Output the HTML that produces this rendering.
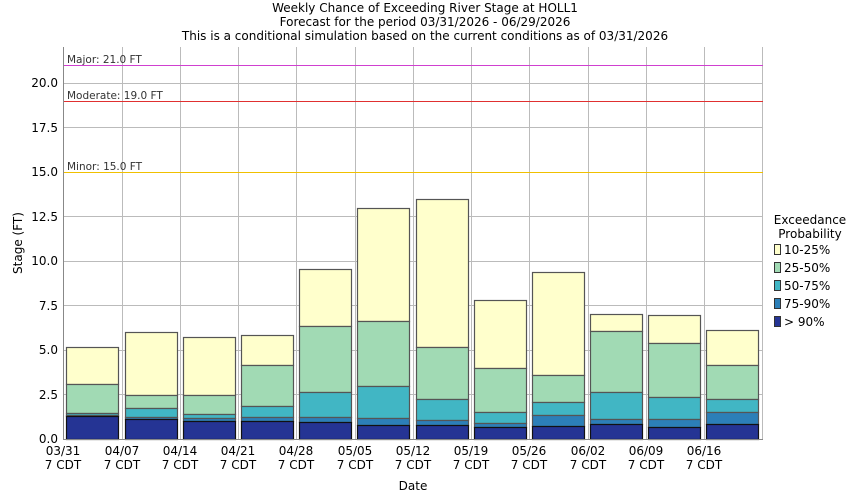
<!DOCTYPE html><html><head><style>body{margin:0;background:#fff}svg{display:block}text{font-family:"DejaVu Sans","Liberation Sans",sans-serif}</style></head><body>
<svg width="850" height="500" xmlns="http://www.w3.org/2000/svg">
<rect width="850" height="500" fill="#fff"/>
<g font-size="12" fill="#000" text-anchor="middle">
<text x="425" y="12">Weekly Chance of Exceeding River Stage at HOLL1</text>
<text x="425" y="26">Forecast for the period 03/31/2026 - 06/29/2026</text>
<text x="425" y="40">This is a conditional simulation based on the current conditions as of 03/31/2026</text>
</g>
<g stroke="#bbb" stroke-width="1">
<line x1="63" y1="394.5" x2="763" y2="394.5"/><line x1="63" y1="350.5" x2="763" y2="350.5"/><line x1="63" y1="305.5" x2="763" y2="305.5"/><line x1="63" y1="261.5" x2="763" y2="261.5"/><line x1="63" y1="216.5" x2="763" y2="216.5"/><line x1="63" y1="172.5" x2="763" y2="172.5"/><line x1="63" y1="127.5" x2="763" y2="127.5"/><line x1="63" y1="83.5" x2="763" y2="83.5"/>
<line x1="122.5" y1="47" x2="122.5" y2="439"/><line x1="180.5" y1="47" x2="180.5" y2="439"/><line x1="238.5" y1="47" x2="238.5" y2="439"/><line x1="296.5" y1="47" x2="296.5" y2="439"/><line x1="355.5" y1="47" x2="355.5" y2="439"/><line x1="413.5" y1="47" x2="413.5" y2="439"/><line x1="471.5" y1="47" x2="471.5" y2="439"/><line x1="529.5" y1="47" x2="529.5" y2="439"/><line x1="588.5" y1="47" x2="588.5" y2="439"/><line x1="646.5" y1="47" x2="646.5" y2="439"/><line x1="704.5" y1="47" x2="704.5" y2="439"/><line x1="762.5" y1="47" x2="762.5" y2="439"/>
</g>
<line x1="63" y1="65.5" x2="763" y2="65.5" stroke="#d040d0"/>
<line x1="63" y1="101.5" x2="763" y2="101.5" stroke="#e03030"/>
<line x1="63" y1="172.5" x2="763" y2="172.5" stroke="#f0c000"/>
<g font-size="10.5" fill="#333">
<text x="67" y="63">Major: 21.0 FT</text><text x="67" y="99">Moderate: 19.0 FT</text><text x="67" y="170">Minor: 15.0 FT</text>
</g>
<g stroke="#555" stroke-width="1.2">
<rect x="66.5" y="347.5" width="52" height="37" fill="#ffffcc"/><rect x="66.5" y="384.5" width="52" height="29" fill="#a1dab4"/><rect x="66.5" y="413.5" width="52" height="2" fill="#41b6c4"/><rect x="66.5" y="415.5" width="52" height="1" fill="#2c7fb8"/><rect x="66.5" y="416.5" width="52" height="23" fill="#253494" stroke="#111"/>
<rect x="125.5" y="332.5" width="52" height="63" fill="#ffffcc"/><rect x="125.5" y="395.5" width="52" height="13" fill="#a1dab4"/><rect x="125.5" y="408.5" width="52" height="9" fill="#41b6c4"/><rect x="125.5" y="417.5" width="52" height="2" fill="#2c7fb8"/><rect x="125.5" y="419.5" width="52" height="20" fill="#253494" stroke="#111"/>
<rect x="183.5" y="337.5" width="52" height="58" fill="#ffffcc"/><rect x="183.5" y="395.5" width="52" height="19" fill="#a1dab4"/><rect x="183.5" y="414.5" width="52" height="4" fill="#41b6c4"/><rect x="183.5" y="418.5" width="52" height="3" fill="#2c7fb8"/><rect x="183.5" y="421.5" width="52" height="18" fill="#253494" stroke="#111"/>
<rect x="241.5" y="335.5" width="52" height="30" fill="#ffffcc"/><rect x="241.5" y="365.5" width="52" height="41" fill="#a1dab4"/><rect x="241.5" y="406.5" width="52" height="11" fill="#41b6c4"/><rect x="241.5" y="417.5" width="52" height="4" fill="#2c7fb8"/><rect x="241.5" y="421.5" width="52" height="18" fill="#253494" stroke="#111"/>
<rect x="299.5" y="269.5" width="52" height="57" fill="#ffffcc"/><rect x="299.5" y="326.5" width="52" height="66" fill="#a1dab4"/><rect x="299.5" y="392.5" width="52" height="25" fill="#41b6c4"/><rect x="299.5" y="417.5" width="52" height="5" fill="#2c7fb8"/><rect x="299.5" y="422.5" width="52" height="17" fill="#253494" stroke="#111"/>
<rect x="357.5" y="208.5" width="52" height="113" fill="#ffffcc"/><rect x="357.5" y="321.5" width="52" height="65" fill="#a1dab4"/><rect x="357.5" y="386.5" width="52" height="32" fill="#41b6c4"/><rect x="357.5" y="418.5" width="52" height="7" fill="#2c7fb8"/><rect x="357.5" y="425.5" width="52" height="14" fill="#253494" stroke="#111"/>
<rect x="416.5" y="199.5" width="52" height="148" fill="#ffffcc"/><rect x="416.5" y="347.5" width="52" height="52" fill="#a1dab4"/><rect x="416.5" y="399.5" width="52" height="21" fill="#41b6c4"/><rect x="416.5" y="420.5" width="52" height="5" fill="#2c7fb8"/><rect x="416.5" y="425.5" width="52" height="14" fill="#253494" stroke="#111"/>
<rect x="474.5" y="300.5" width="52" height="68" fill="#ffffcc"/><rect x="474.5" y="368.5" width="52" height="44" fill="#a1dab4"/><rect x="474.5" y="412.5" width="52" height="11" fill="#41b6c4"/><rect x="474.5" y="423.5" width="52" height="4" fill="#2c7fb8"/><rect x="474.5" y="427.5" width="52" height="12" fill="#253494" stroke="#111"/>
<rect x="532.5" y="272.5" width="52" height="103" fill="#ffffcc"/><rect x="532.5" y="375.5" width="52" height="27" fill="#a1dab4"/><rect x="532.5" y="402.5" width="52" height="13" fill="#41b6c4"/><rect x="532.5" y="415.5" width="52" height="11" fill="#2c7fb8"/><rect x="532.5" y="426.5" width="52" height="13" fill="#253494" stroke="#111"/>
<rect x="590.5" y="314.5" width="52" height="17" fill="#ffffcc"/><rect x="590.5" y="331.5" width="52" height="61" fill="#a1dab4"/><rect x="590.5" y="392.5" width="52" height="27" fill="#41b6c4"/><rect x="590.5" y="419.5" width="52" height="5" fill="#2c7fb8"/><rect x="590.5" y="424.5" width="52" height="15" fill="#253494" stroke="#111"/>
<rect x="648.5" y="315.5" width="52" height="28" fill="#ffffcc"/><rect x="648.5" y="343.5" width="52" height="54" fill="#a1dab4"/><rect x="648.5" y="397.5" width="52" height="22" fill="#41b6c4"/><rect x="648.5" y="419.5" width="52" height="8" fill="#2c7fb8"/><rect x="648.5" y="427.5" width="52" height="12" fill="#253494" stroke="#111"/>
<rect x="706.5" y="330.5" width="52" height="35" fill="#ffffcc"/><rect x="706.5" y="365.5" width="52" height="34" fill="#a1dab4"/><rect x="706.5" y="399.5" width="52" height="13" fill="#41b6c4"/><rect x="706.5" y="412.5" width="52" height="12" fill="#2c7fb8"/><rect x="706.5" y="424.5" width="52" height="15" fill="#253494" stroke="#111"/>
</g>
<line x1="63.5" y1="47" x2="63.5" y2="440" stroke="#888"/>
<line x1="63" y1="439.5" x2="763" y2="439.5" stroke="#888"/>
<g font-size="12" fill="#000" text-anchor="end">
<text x="58" y="443">0.0</text><text x="58" y="399">2.5</text><text x="58" y="354">5.0</text><text x="58" y="310">7.5</text><text x="58" y="265">10.0</text><text x="58" y="221">12.5</text><text x="58" y="176">15.0</text><text x="58" y="132">17.5</text><text x="58" y="87">20.0</text>
</g>
<text x="22" y="243" font-size="12" text-anchor="middle" transform="rotate(-90 22 243)">Stage (FT)</text>
<g font-size="12" fill="#000" text-anchor="middle">
<text x="63" y="455">03/31</text><text x="63" y="469">7 CDT</text>
<text x="122" y="455">04/07</text><text x="122" y="469">7 CDT</text>
<text x="180" y="455">04/14</text><text x="180" y="469">7 CDT</text>
<text x="238" y="455">04/21</text><text x="238" y="469">7 CDT</text>
<text x="296" y="455">04/28</text><text x="296" y="469">7 CDT</text>
<text x="355" y="455">05/05</text><text x="355" y="469">7 CDT</text>
<text x="413" y="455">05/12</text><text x="413" y="469">7 CDT</text>
<text x="471" y="455">05/19</text><text x="471" y="469">7 CDT</text>
<text x="529" y="455">05/26</text><text x="529" y="469">7 CDT</text>
<text x="588" y="455">06/02</text><text x="588" y="469">7 CDT</text>
<text x="646" y="455">06/09</text><text x="646" y="469">7 CDT</text>
<text x="704" y="455">06/16</text><text x="704" y="469">7 CDT</text>
<text x="413" y="490">Date</text>
</g>
<g font-size="12" fill="#000">
<text x="810" y="224" text-anchor="middle">Exceedance</text>
<text x="810" y="238" text-anchor="middle">Probability</text>
<g stroke="#333" stroke-width="1">
<rect x="774.5" y="244.5" width="6" height="10" fill="#ffffcc"/>
<rect x="774.5" y="262.5" width="6" height="10" fill="#a1dab4"/>
<rect x="774.5" y="280.5" width="6" height="10" fill="#41b6c4"/>
<rect x="774.5" y="298.5" width="6" height="10" fill="#2c7fb8"/>
<rect x="774.5" y="316.5" width="6" height="10" fill="#253494"/>
</g>
<text x="784" y="254">10-25%</text><text x="784" y="272">25-50%</text><text x="784" y="290">50-75%</text><text x="784" y="308">75-90%</text><text x="784" y="326">&gt; 90%</text>
</g>
</svg>
</body></html>
